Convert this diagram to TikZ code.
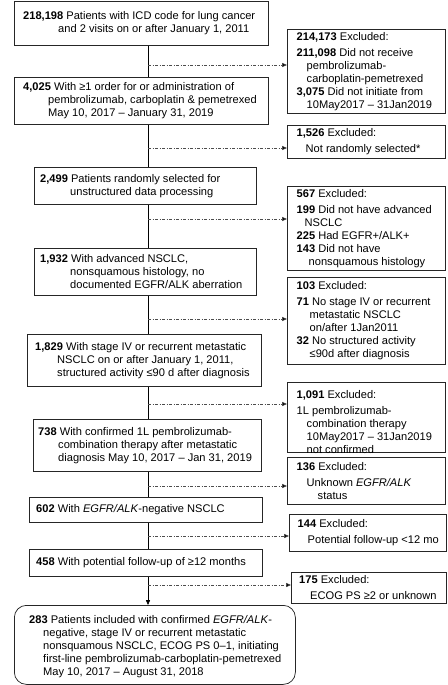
\documentclass[tikz,border=0pt]{standalone}
\usepackage{fontspec}
\setmainfont{Liberation Sans}
\usetikzlibrary{arrows.meta}
\begin{document}
\begin{tikzpicture}[x=1pt,y=-1pt,
  boxx/.style={draw=black!85, line width=0.75pt, rectangle, inner sep=0pt, anchor=north west},
  txt/.style={inner sep=0pt, align=left, font=\fontsize{11.1}{13}\selectfont},
  spine/.style={draw=black, line width=0.75pt},
  exarr/.style={draw=black!70, line width=0.6pt, dash pattern=on 3pt off 1.6pt on 0.8pt off 1.6pt,
    -{Triangle[length=5pt,width=4.2pt,fill=black]}}
]
\useasboundingbox (0,0) rectangle (447,685);
\coordinate (sp) at (148,0);
% main column boxes
\node[boxx, minimum width=254pt, minimum height=44pt] (b1) at (14,1) {};
\node[boxx, minimum width=254pt, minimum height=47pt] (b2) at (14,77) {};
\node[boxx, minimum width=222pt, minimum height=37pt] (b3) at (34,167) {};
\node[boxx, minimum width=222pt, minimum height=47pt] (b4) at (34,248) {};
\node[boxx, minimum width=234pt, minimum height=52pt] (b5) at (27,334) {};
\node[boxx, minimum width=228pt, minimum height=52pt] (b6) at (33,419) {};
\node[boxx, minimum width=233pt, minimum height=25pt] (b7) at (29,497) {};
\node[boxx, minimum width=233pt, minimum height=27pt] (b8) at (29,549) {};
\node[boxx, rounded corners=12pt, minimum width=281pt, minimum height=79pt] (fin) at (14,605) {};
% exclusion boxes
\node[boxx, minimum width=158pt, minimum height=84pt] (e1) at (287,29) {};
\node[boxx, minimum width=158pt, minimum height=33pt] (e2) at (287,125) {};
\node[boxx, minimum width=158pt, minimum height=84pt] (e3) at (287,186) {};
\node[boxx, minimum width=158pt, minimum height=87pt] (e4) at (287,277) {};
\node[boxx, minimum width=158pt, minimum height=70pt] (e5) at (287,382) {};
\node[boxx, minimum width=158pt, minimum height=47pt] (e6) at (287,457) {};
\node[boxx, minimum width=157pt, minimum height=37pt] (e7) at (289,514) {};
\node[boxx, minimum width=155pt, minimum height=31pt] (e8) at (291,572) {};
% main texts
\node[txt, anchor=west] (t1) at ([xshift=9pt]b1.west) {\textbf{218,198} Patients with ICD code for lung cancer\\\hspace*{35pt}and 2 visits on or after January 1, 2011};
\node[txt, anchor=west] (t2) at ([xshift=9pt]b2.west) {\textbf{4,025} With ≥1 order for or administration of\\\hspace*{25pt}pembrolizumab, carboplatin \& pemetrexed\\\hspace*{25pt}May 10, 2017 – January 31, 2019};
\node[txt, anchor=west] (t3) at ([xshift=6pt]b3.west) {\textbf{2,499} Patients randomly selected for\\\hspace*{30pt}unstructured data processing};
\node[txt, anchor=west] (t4) at ([xshift=6pt]b4.west) {\textbf{1,932} With advanced NSCLC,\\\hspace*{30pt}nonsquamous histology, no\\\hspace*{30pt}documented EGFR/ALK aberration};
\node[txt, anchor=west] (t5) at ([xshift=8pt]b5.west) {\textbf{1,829} With stage IV or recurrent metastatic\\\hspace*{22pt}NSCLC on or after January 1, 2011,\\\hspace*{22pt}structured activity ≤90 d after diagnosis};
\node[txt, anchor=west] (t6) at ([xshift=5pt]b6.west) {\textbf{738} With confirmed 1L pembrolizumab-\\\hspace*{20pt}combination therapy after metastatic\\\hspace*{20pt}diagnosis May 10, 2017 – Jan 31, 2019};
\node[txt, anchor=west] (t7) at ([xshift=7pt]b7.west) {\textbf{602} With \textit{EGFR/ALK}-negative NSCLC};
\node[txt, anchor=west] (t8) at ([xshift=7pt]b8.west) {\textbf{458} With potential follow-up of ≥12 months};
\node[txt, anchor=west] (tf) at ([xshift=15pt,yshift=-2pt]fin.west) {\textbf{283} Patients included with confirmed \textit{EGFR/ALK}-\\\hspace*{14pt}negative, stage IV or recurrent metastatic\\\hspace*{14pt}nonsquamous NSCLC, ECOG PS 0–1, initiating\\\hspace*{14pt}first-line pembrolizumab-carboplatin-pemetrexed\\\hspace*{14pt}May 10, 2017 – August 31, 2018};
% exclusion texts
\node[txt, anchor=west] (u1) at ([xshift=9.5pt]e1.west) {\textbf{214,173} Excluded:\\[3pt]\textbf{211,098} Did not receive\\\hspace*{10pt}pembrolizumab-\\\hspace*{10pt}carboplatin-pemetrexed\\\textbf{3,075} Did not initiate from\\\hspace*{10pt}10May2017 – 31Jan2019};
\node[txt, anchor=west] (u2) at ([xshift=9.5pt]e2.west) {\textbf{1,526} Excluded:\\[3pt]\hspace*{9pt}Not randomly selected*};
\node[txt, anchor=west] (u3) at ([xshift=9.5pt]e3.west) {\textbf{567} Excluded:\\[3pt]\textbf{199} Did not have advanced\\\hspace*{8pt}NSCLC\\\textbf{225} Had EGFR+/ALK+\\\textbf{143} Did not have\\\hspace*{12pt}nonsquamous histology};
\node[txt, anchor=west] (u4) at ([xshift=9.5pt]e4.west) {\textbf{103} Excluded:\\[3pt]\textbf{71} No stage IV or recurrent\\\hspace*{13pt}metastatic NSCLC\\\hspace*{13pt}on/after 1Jan2011\\\textbf{32} No structured activity\\\hspace*{13pt}≤90d after diagnosis};
\node[txt, anchor=north west] (u5) at ([xshift=9.5pt,yshift=-8pt]e5.north west) {\textbf{1,091} Excluded:\\[3pt]1L pembrolizumab-\\\hspace*{10pt}combination therapy\\\hspace*{10pt}10May2017 – 31Jan2019\\\hspace*{10pt}not confirmed};
\node[txt, anchor=west] (u6) at ([xshift=9.5pt]e6.west) {\textbf{136} Excluded:\\[3pt]\hspace*{10pt}Unknown \textit{EGFR/ALK}\\\hspace*{21pt}status};
\node[txt, anchor=west] (u7) at ([xshift=8.5pt]e7.west) {\textbf{144} Excluded:\\[3pt]\hspace*{10pt}Potential follow-up <12 mo};
\node[txt, anchor=west] (u8) at ([xshift=8pt]e8.west) {\textbf{175} Excluded:\\[3pt]\hspace*{11pt}ECOG PS ≥2 or unknown};
% spine segments
\draw[spine] (b1.south -| sp) -- (b2.north -| sp);
\draw[spine] (b2.south -| sp) -- (b3.north -| sp);
\draw[spine] (b3.south -| sp) -- (b4.north -| sp);
\draw[spine] (b4.south -| sp) -- (b5.north -| sp);
\draw[spine] (b5.south -| sp) -- (b6.north -| sp);
\draw[spine] (b6.south -| sp) -- (b7.north -| sp);
\draw[spine] (b7.south -| sp) -- (b8.north -| sp);
\draw[spine, -{Triangle[length=5pt,width=4.2pt]}] (b8.south -| sp) -- (fin.north -| sp);
% exclusion arrows
\coordinate (a1) at (148,65);
\coordinate (a2) at (148,148);
\coordinate (a3) at (148,219);
\coordinate (a4) at (148,319);
\coordinate (a5) at (148,404);
\coordinate (a6) at (148,486);
\coordinate (a7) at (148,536);
\coordinate (a8) at (148,585);
\draw[exarr] (a1) -- (a1 -| e1.west);
\draw[exarr] (a2) -- (a2 -| e2.west);
\draw[exarr] (a3) -- (a3 -| e3.west);
\draw[exarr] (a4) -- (a4 -| e4.west);
\draw[exarr] (a5) -- (a5 -| e5.west);
\draw[exarr] (a6) -- (a6 -| e6.west);
\draw[exarr] (a7) -- (a7 -| e7.west);
\draw[exarr] (a8) -- (a8 -| e8.west);
\end{tikzpicture}
\end{document}
